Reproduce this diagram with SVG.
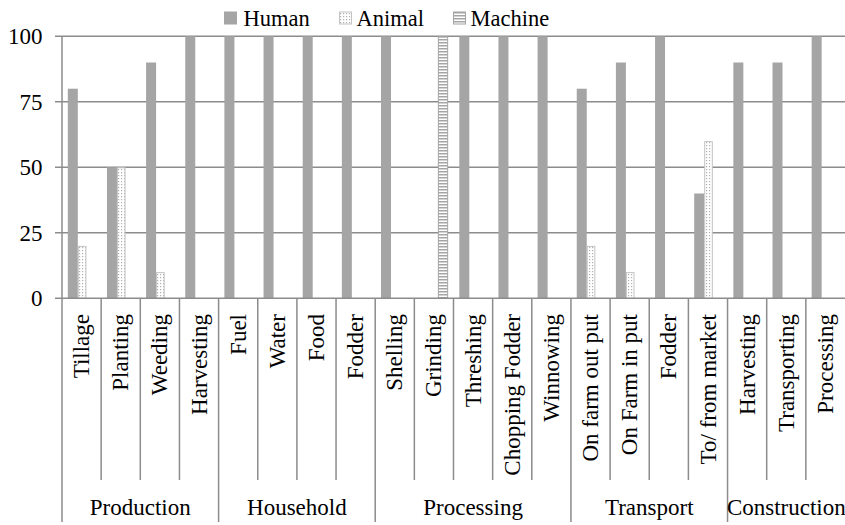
<svg xmlns="http://www.w3.org/2000/svg" width="845" height="525" viewBox="0 0 845 525">
<style>
.t{fill:#000;font-size:23px;font-family:'Liberation Serif','Times New Roman',serif}
.grid{stroke:#8c8c8c;stroke-width:1.5;fill:none}
.h{fill:#a5a5a5}
.a{fill:url(#dots);stroke:#c4c4c4;stroke-width:1}
.m{fill:url(#stripes);stroke:#a5a5a5;stroke-width:1}
</style>
<defs>
<pattern id="dots" patternUnits="userSpaceOnUse" width="3" height="3">
<rect width="3" height="3" fill="#ffffff"/>
<rect x="1" y="1" width="1.2" height="1.2" fill="#b0b0b0"/>
</pattern>
<pattern id="stripes" patternUnits="userSpaceOnUse" width="4" height="3">
<rect width="4" height="3" fill="#ffffff"/>
<rect width="4" height="1.5" fill="#a5a5a5"/>
</pattern>
</defs>
<rect width="845" height="525" fill="#ffffff"/>
<g id="gridlines">
<path class="grid" d="M55 36.3H845M55 101.8H845M55 167.3H845M55 232.8H845"/>
</g>
<g id="yaxis" class="t" text-anchor="end">
<path class="grid" d="M62 36.3V522"/>
<text x="42.5" y="44.3">100</text>
<text x="42.5" y="109.8">75</text>
<text x="42.5" y="175.3">50</text>
<text x="42.5" y="240.8">25</text>
<text x="42.5" y="306.3">0</text>
</g>
<g id="series-human">
<rect class="h" x="67.8" y="88.7" width="10" height="209.6"/>
<rect class="h" x="106.95" y="167.3" width="10" height="131"/>
<rect class="h" x="146.1" y="62.5" width="10" height="235.8"/>
<rect class="h" x="185.25" y="36.3" width="10" height="262"/>
<rect class="h" x="224.4" y="36.3" width="10" height="262"/>
<rect class="h" x="263.55" y="36.3" width="10" height="262"/>
<rect class="h" x="302.7" y="36.3" width="10" height="262"/>
<rect class="h" x="341.85" y="36.3" width="10" height="262"/>
<rect class="h" x="381" y="36.3" width="10" height="262"/>
<rect class="h" x="459.3" y="36.3" width="10" height="262"/>
<rect class="h" x="498.45" y="36.3" width="10" height="262"/>
<rect class="h" x="537.6" y="36.3" width="10" height="262"/>
<rect class="h" x="576.75" y="88.7" width="10" height="209.6"/>
<rect class="h" x="615.9" y="62.5" width="10" height="235.8"/>
<rect class="h" x="655.05" y="36.3" width="10" height="262"/>
<rect class="h" x="694.2" y="193.5" width="10" height="104.8"/>
<rect class="h" x="733.35" y="62.5" width="10" height="235.8"/>
<rect class="h" x="772.5" y="62.5" width="10" height="235.8"/>
<rect class="h" x="811.65" y="36.3" width="10" height="262"/>
</g>
<g id="series-animal">
<rect class="a" x="78.3" y="246.4" width="7.6" height="51.9"/>
<rect class="a" x="117.45" y="167.8" width="7.6" height="130.5"/>
<rect class="a" x="156.6" y="272.6" width="7.6" height="25.7"/>
<rect class="a" x="587.25" y="246.4" width="7.6" height="51.9"/>
<rect class="a" x="626.4" y="272.6" width="7.6" height="25.7"/>
<rect class="a" x="704.7" y="141.6" width="7.6" height="156.7"/>
</g>
<g id="series-machine">
<rect class="m" x="438.35" y="36.8" width="9.3" height="261.5"/>
</g>
<g id="connectors">
<path class="grid" d="M55 298.3H845"/>
<path class="grid" d="M101.15 298.3V480M140.3 298.3V480M179.45 298.3V480M257.75 298.3V480M296.9 298.3V480M336.05 298.3V480M414.35 298.3V480M453.5 298.3V480M492.65 298.3V480M531.8 298.3V480M610.1 298.3V480M649.25 298.3V480M688.4 298.3V480M766.7 298.3V480M805.85 298.3V480"/>
<path class="grid" d="M218.6 298.3V522M375.2 298.3V522M570.95 298.3V522M727.55 298.3V522"/>
</g>
<g id="category-labels" class="t" text-anchor="end">
<text transform="translate(89.1 314) rotate(-90)">Tillage</text>
<text transform="translate(128.25 314) rotate(-90)">Planting</text>
<text transform="translate(167.4 314) rotate(-90)">Weeding</text>
<text transform="translate(206.55 314) rotate(-90)">Harvesting</text>
<text transform="translate(245.7 314) rotate(-90)">Fuel</text>
<text transform="translate(284.85 314) rotate(-90)">Water</text>
<text transform="translate(324 314) rotate(-90)">Food</text>
<text transform="translate(363.15 314) rotate(-90)">Fodder</text>
<text transform="translate(402.3 314) rotate(-90)">Shelling</text>
<text transform="translate(441.45 314) rotate(-90)">Grinding</text>
<text transform="translate(480.6 314) rotate(-90)">Threshing</text>
<text transform="translate(519.75 314) rotate(-90)">Chopping Fodder</text>
<text transform="translate(558.9 314) rotate(-90)">Winnowing</text>
<text transform="translate(598.05 314) rotate(-90)">On farm out put</text>
<text transform="translate(637.2 314) rotate(-90)">On Farm in put</text>
<text transform="translate(676.35 314) rotate(-90)">Fodder</text>
<text transform="translate(715.5 314) rotate(-90)">To/ from market</text>
<text transform="translate(754.65 314) rotate(-90)">Harvesting</text>
<text transform="translate(793.8 314) rotate(-90)">Transporting</text>
<text transform="translate(832.95 314) rotate(-90)">Processing</text>
</g>
<g id="group-labels" class="t" text-anchor="middle">
<text x="140.3" y="515">Production</text>
<text x="296.9" y="515">Household</text>
<text x="473.1" y="515">Processing</text>
<text x="649.25" y="515">Transport</text>
<text x="786.3" y="515">Construction</text>
</g>
<g id="legend" class="t">
<rect class="h" x="224" y="11.5" width="13" height="13"/>
<text x="243.5" y="26" font-size="22.5">Human</text>
<rect class="a" x="339.5" y="12" width="12" height="12"/>
<text x="356.5" y="26" font-size="22.5">Animal</text>
<rect class="m" x="453.5" y="12" width="12" height="12"/>
<text x="470.5" y="26" font-size="22.5">Machine</text>
</g>
</svg>
